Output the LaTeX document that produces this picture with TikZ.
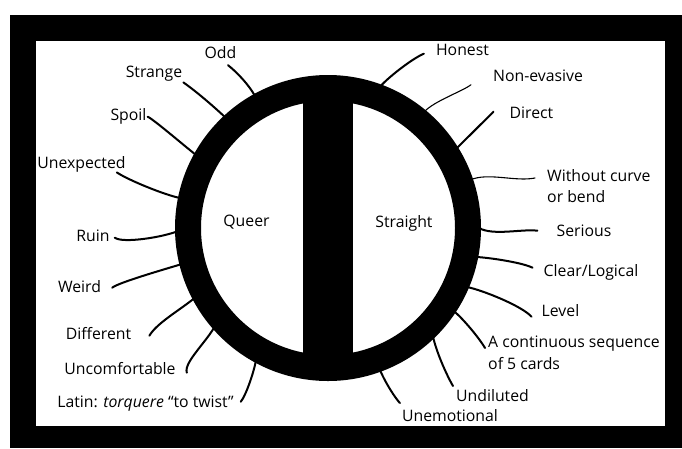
\documentclass[tikz,border=0pt]{standalone}
\usepackage{fontspec}
\setmainfont{Open Sans}
\tikzset{
  every picture/.style={x=1pt, y=-1pt},
  lbl/.style={inner sep=0pt, text height=11.5pt, text depth=3.5pt, font=\fontsize{15.8}{21.5}\selectfont},
  lbltwo/.style={inner sep=0pt, align=left, anchor=north west, font=\fontsize{15.8}{21.5}\selectfont},
  wire/.style={line width=2pt, line cap=round},
  wirethin/.style={line width=1.1pt, line cap=round},
}
\begin{document}
\begin{tikzpicture}
  \useasboundingbox (0,0) rectangle (682,448);
  \fill[white] (0,0) rectangle (682,448);
  \fill[black] (10,15) rectangle (682,448);
  \fill[white] (36,41) rectangle (665,426);
  % ring with the bar
  \coordinate (c) at (328,228);
  \draw[line width=26pt] (c) circle[radius=140pt];
  \fill ([shift={(-25,-135)}]c) rectangle ([shift={(25,135)}]c);
  \node[lbl] (queer) at (246.5,222.7) {Queer};
  \node[lbl] (straight) at (404,223.7) {Straight};
  % left labels
  \node[lbl] (odd) at (220.5,54.7) {Odd};
  \node[lbl] (strange) at (154,73.7) {Strange};
  \node[lbl] (spoil) at (128.5,116.7) {Spoil};
  \node[lbl] (unexp) at (81.5,164.7) {Unexpected};
  \node[lbl] (ruin) at (93,237.7) {Ruin};
  \node[lbl] (weird) at (79.5,288.7) {Weird};
  \node[lbl] (diff) at (98.5,335.7) {Different};
  \node[lbl] (uncomf) at (120,370.7) {Uncomfortable};
  \node[lbl] (latin) at (145.5,403.7) {Latin: \textit{torquere} “to twist”};
  % right labels
  \node[lbl] (honest) at (462.5,51.7) {Honest};
  \node[lbl] (nonev) at (538,77.7) {Non-evasive};
  \node[lbl] (direct) at (531.5,114.7) {Direct};
  \node[lbltwo] (without) at (547,169) {Without curve\\or bend};
  \node[lbl] (serious) at (584,232.7) {Serious};
  \node[lbl] (clear) at (591,272.7) {Clear/Logical};
  \node[lbl] (level) at (560.5,312.7) {Level};
  \node[lbltwo] (cont) at (488,336) {A continuous sequence\\of 5 cards};
  \node[lbl] (undil) at (492.5,397.7) {Undiluted};
  \node[lbl] (unemo) at (450,417.7) {Unemotional};
  % ends on the ring
  \coordinate (r-odd) at (255,96);
  \coordinate (r-strange) at (226,118);
  \coordinate (r-spoil) at (196,155);
  \coordinate (r-unexp) at (180,198);
  \coordinate (r-ruin) at (178,231);
  \coordinate (r-weird) at (182,264);
  \coordinate (r-diff) at (199,294);
  \coordinate (r-uncomf) at (219,316);
  \coordinate (r-latin) at (256,360);
  \coordinate (r-honest) at (379,88);
  \coordinate (r-nonev) at (424,112);
  \coordinate (r-direct) at (452,153);
  \coordinate (r-without) at (470,180);
  \coordinate (r-serious) at (479,228);
  \coordinate (r-clear) at (477,257);
  \coordinate (r-level) at (467,287);
  \coordinate (r-cont) at (452,310);
  \coordinate (r-undil) at (432,330);
  \coordinate (r-unemo) at (377,360);
  % connectors
  \draw[wire] ([shift={(7.5,2.8)}]odd.south) .. controls +(9,7) and +(-6,-11) .. (r-odd);
  \draw[wire] ([shift={(1,1)}]strange.south east) .. controls +(14,10) and +(-14,-13) .. (r-strange);
  \draw[wire] ([shift={(1,0)}]spoil.east) .. controls +(5,2) and +(-15,-12) .. (r-spoil);
  \draw[wire] ([shift={(-9,0)}]unexp.south east) .. controls +(12,8) and +(-15,-3) .. (r-unexp);
  \draw[wire] ([shift={(5,0)}]ruin.east) .. controls +(8,6) and +(-14,6) .. (r-ruin);
  \draw[wire] ([shift={(11,-1)}]weird.east) .. controls +(6,-5) and +(-20,6) .. (r-weird);
  \draw[wire] ([shift={(18,0)}]diff.east) .. controls +(8,-14) and +(-12,12) .. (r-diff);
  \draw[wire] ([shift={(11,2)}]uncomf.east) .. controls +(-4,-12) and +(-3,18) .. (r-uncomf);
  \draw[wire] ([shift={(7,-2)}]latin.east) .. controls +(5,-6) and +(-2,12) .. (r-latin);
  \draw[wire] ([shift={(-12,2)}]honest.west) .. controls +(-12,5) and +(7,-9) .. (r-honest);
  \draw[wirethin] ([shift={(-22,7)}]nonev.west) .. controls +(-7,6) and +(10,-11) .. (r-nonev);
  \draw[wire] ([shift={(-16,-3)}]direct.west) .. controls +(-12,12) and +(12,-12) .. (r-direct);
  \draw[wirethin] ([shift={(-12,9)}]without.north west) .. controls +(-20,4) and +(18,-8) .. (r-without);
  \draw[wire] ([shift={(-19,-2)}]serious.west) .. controls +(-15,-2) and +(14,8) .. (r-serious);
  \draw[wire] ([shift={(-11,-5)}]clear.west) .. controls +(-10,-5) and +(15,1) .. (r-clear);
  \draw[wire] ([shift={(-10,4)}]level.west) .. controls +(-10,-11) and +(15,3) .. (r-level);
  \draw[wire] ([shift={(-3,12)}]cont.north west) .. controls +(-7,-12) and +(6,3) .. (r-cont);
  \draw[wire] ([shift={(-3,-4)}]undil.north west) .. controls +(-8,-14) and +(1,14) .. (r-undil);
  \draw[wire] ([shift={(-2,-7)}]unemo.north west) .. controls +(-8,-9) and +(1,10) .. (r-unemo);
\end{tikzpicture}
\end{document}
